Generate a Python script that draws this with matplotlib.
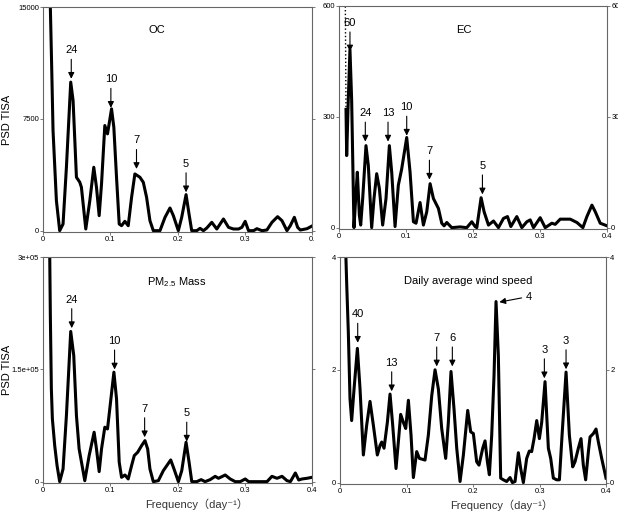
import numpy as np
import matplotlib
matplotlib.use("Agg")
import matplotlib.pyplot as plt

plt.rcParams['font.family'] = ['Liberation Sans', 'Noto Sans CJK SC', 'DejaVu Sans']

# OC
oc_f = [0.0105, 0.0109, 0.0129, 0.0149, 0.0199, 0.0248, 0.0298, 0.0348, 0.0412, 0.0447,
        0.0497, 0.0547, 0.0571, 0.0636, 0.0696, 0.0755, 0.0795, 0.0835, 0.0870, 0.0919,
        0.0959, 0.1019, 0.1053, 0.1093, 0.1133, 0.1168, 0.1217, 0.1267, 0.1317, 0.1366,
        0.1441, 0.1491, 0.1540, 0.1590, 0.1640, 0.1739, 0.1814, 0.1888, 0.1938, 0.2012,
        0.2062, 0.2127, 0.2171, 0.2211, 0.2286, 0.2335, 0.2385, 0.2435, 0.2509, 0.2584,
        0.2683, 0.2758, 0.2832, 0.2907, 0.2957, 0.3006, 0.3056, 0.3131, 0.3180, 0.3255,
        0.3329, 0.3404, 0.3488, 0.3553, 0.3627, 0.3677, 0.3737, 0.3786, 0.3826, 0.3926, 0.4]
oc_v = [16500, 15000, 10970, 6717, 2015, 0, 448, 4254, 9964, 8732,
        3582, 3247, 2911, 112, 2015, 4254, 2911, 1008, 3135, 7053,
        6493, 8172, 6941, 3582, 448, 336, 627, 336, 2239, 3806,
        3582, 3247, 2239, 672, 0, 0, 896, 1523, 1008, 0,
        896, 2418, 1120, 0, 0, 157, 0, 179, 560, 112,
        784, 224, 112, 112, 224, 627, 0, 0, 134, 0,
        45, 560, 940, 672, 0, 336, 896, 224, 45, 134, 313]
oc_marks = [("24", 0.042, 10190), ("10", 0.1009, 8240), ("7", 0.139, 4140), ("5", 0.2127, 2575)]

# EC (first segment dotted)
ec_dot_f = [0.0093, 0.0105]
ec_dot_v = [650, 320]
ec_f = [0.0105, 0.0115, 0.0139, 0.0164, 0.0189, 0.0224, 0.0249, 0.0274, 0.0304, 0.0324,
        0.0354, 0.0403, 0.0438, 0.0488, 0.0523, 0.0563, 0.0603, 0.0652, 0.0702, 0.0752,
        0.0787, 0.0837, 0.0886, 0.0936, 0.1011, 0.1061, 0.1111, 0.1150, 0.1210, 0.1260,
        0.1310, 0.1360, 0.1409, 0.1484, 0.1534, 0.1569, 0.1609, 0.1683, 0.1808, 0.1907,
        0.1982, 0.2032, 0.2057, 0.2121, 0.2166, 0.2231, 0.2306, 0.2380, 0.2455, 0.2515,
        0.2565, 0.2654, 0.2729, 0.2804, 0.2854, 0.2903, 0.3003, 0.3078, 0.3177, 0.3227,
        0.3302, 0.3376, 0.3451, 0.3551, 0.3640, 0.3700, 0.3775, 0.3825, 0.3899, 0.4]
ec_v = [320, 195, 347, 482, 347, 0, 79, 150, 34, 7,
        79, 222, 168, 0, 79, 146, 106, 7, 79, 222,
        150, 3, 115, 159, 244, 150, 16, 12, 68, 7,
        43, 119, 79, 52, 12, 5, 14, 0, 2, 0,
        16, 3, 0, 81, 43, 7, 18, 0, 25, 30,
        3, 30, 0, 16, 21, 0, 27, 0, 12, 9,
        23, 23, 23, 14, 0, 30, 61, 43, 12, 5]
ec_marks = [("60", 0.0164, 477), ("24", 0.0393, 233), ("13", 0.0732, 233),
            ("10", 0.1011, 249), ("7", 0.135, 130), ("5", 0.2141, 90)]

# PM2.5 mass
pm_f = [0.0099, 0.0109, 0.0124, 0.0139, 0.0174, 0.0209, 0.0248, 0.0298, 0.0348, 0.0412,
        0.0457, 0.0497, 0.0537, 0.0621, 0.0686, 0.0760, 0.0795, 0.0835, 0.0870, 0.0919,
        0.0959, 0.1004, 0.1054, 0.1093, 0.1133, 0.1168, 0.1218, 0.1267, 0.1317, 0.1357,
        0.1407, 0.1466, 0.1516, 0.1556, 0.1590, 0.1640, 0.1715, 0.1789, 0.1899, 0.1948,
        0.2013, 0.2063, 0.2127, 0.2172, 0.2212, 0.2286, 0.2351, 0.2410, 0.2485, 0.2560,
        0.2609, 0.2709, 0.2783, 0.2858, 0.2932, 0.3007, 0.3057, 0.3330, 0.3404, 0.3479,
        0.3554, 0.3628, 0.3678, 0.3752, 0.3802, 0.3852, 0.3926, 0.4]
pm_v = [310000, 222000, 124000, 84200, 48100, 21400, 0, 16900, 88300, 200600,
        168500, 88300, 43700, 1300, 34800, 66000, 43700, 13400, 43700, 72700,
        70400, 106100, 146200, 110600, 25900, 5800, 8900, 3600, 21400, 34800,
        39200, 48100, 54800, 43700, 16900, 0, 1300, 14700, 29000, 16900,
        0, 14700, 52600, 25900, 0, 0, 2700, 0, 2700, 7100,
        4500, 8900, 3600, 0, 0, 3600, 0, 0, 7100, 4500,
        7100, 1300, 0, 11600, 2200, 3600, 4500, 5800]
pm_marks = [("24", 0.0427, 205000), ("10", 0.1064, 149800), ("7", 0.1511, 59300), ("5", 0.2137, 53500)]

# Daily average wind speed
ws_f = [0.0085, 0.0100, 0.0125, 0.0150, 0.0175, 0.0211, 0.0261, 0.0301, 0.0351, 0.0401,
        0.0451, 0.0501, 0.0561, 0.0602, 0.0627, 0.0662, 0.0712, 0.0752, 0.0792, 0.0842,
        0.0877, 0.0912, 0.0952, 0.0988, 0.1028, 0.1068, 0.1103, 0.1153, 0.1193, 0.1278,
        0.1328, 0.1379, 0.1429, 0.1479, 0.1529, 0.1589, 0.1629, 0.1669, 0.1714, 0.1755,
        0.1805, 0.1855, 0.1920, 0.1965, 0.2005, 0.2055, 0.2090, 0.2146, 0.2181, 0.2216,
        0.2246, 0.2281, 0.2316, 0.2346, 0.2381, 0.2416, 0.2456, 0.2506, 0.2557, 0.2592,
        0.2632, 0.2682, 0.2717, 0.2757, 0.2807, 0.2847, 0.2882, 0.2918, 0.2958, 0.2998,
        0.3033, 0.3083, 0.3133, 0.3168, 0.3208, 0.3258, 0.3299, 0.3339, 0.3399, 0.3449,
        0.3499, 0.3534, 0.3584, 0.3624, 0.3659, 0.3694, 0.3735, 0.3760, 0.3810, 0.3850,
        0.3885, 0.3935, 0.4]
ws_v = [4.13, 3.54, 2.66, 1.49, 1.10, 1.66, 2.38, 1.66, 0.49, 1.02,
        1.44, 1.02, 0.49, 0.66, 0.72, 0.61, 1.07, 1.57, 1.02, 0.25,
        0.72, 1.21, 1.07, 0.96, 1.46, 0.84, 0.09, 0.55, 0.43, 0.40,
        0.84, 1.54, 2.00, 1.66, 0.96, 0.43, 1.07, 1.97, 1.31, 0.61,
        0.02, 0.49, 1.28, 0.90, 0.87, 0.37, 0.31, 0.61, 0.74, 0.37,
        0.14, 0.84, 1.90, 3.21, 2.25, 0.08, 0.05, 0.02, 0.09, 0.0,
        0.02, 0.53, 0.25, 0.0, 0.43, 0.56, 0.55, 0.78, 1.10, 0.78,
        1.07, 1.79, 0.61, 0.43, 0.08, 0.05, 0.05, 0.84, 1.96, 0.84,
        0.28, 0.37, 0.61, 0.78, 0.31, 0.05, 0.55, 0.81, 0.87, 0.95,
        0.72, 0.43, 0.08]
ws_marks = [("40", 0.0266, 2.48), ("13", 0.0777, 1.62), ("7", 0.1454, 2.06),
            ("6", 0.1689, 2.06), ("3", 0.3073, 1.85), ("3", 0.3399, 2.01)]
ws_mark4 = ("4", 0.2396, 3.20)

x_ticks = [0, 0.1, 0.2, 0.3, 0.4]
x_labels = ["0", "0.1", "0.2", "0.3", "0.4"]
x_labels_oc = ["0", "0.1", "0.2", "0.3", "0."]

fig = plt.figure(figsize=(6.18, 5.14), dpi=100)
ax1 = fig.add_axes([0.0696, 0.5486, 0.4353, 0.4377])
ax2 = fig.add_axes([0.5485, 0.5545, 0.4337, 0.4339])
ax3 = fig.add_axes([0.0696, 0.0603, 0.4353, 0.4397])
ax4 = fig.add_axes([0.5502, 0.0584, 0.4304, 0.4416])

arrow = dict(arrowstyle='-|>', color='black', lw=0.8, mutation_scale=9, shrinkA=1, shrinkB=0)
fs = 8


def style(ax, top, yticks, ylabels, right_labels):
    ax.set_xlim(0, 0.4)
    ax.set_ylim(-0.006 * top, top)
    ax.set_xticks(x_ticks)
    ax.set_yticks(yticks)
    ax.set_yticklabels(ylabels)
    for s in ax.spines.values():
        s.set_color('#666666')
        s.set_linewidth(0.8)
    ax.tick_params(direction='out', length=2, width=0.6, color='#666666',
                   labelsize=5.5, pad=1, right=True, labelright=right_labels)


def marks(ax, items):
    for lab, f, v in items:
        ax.annotate(lab, xy=(f, v), xytext=(0, 17), textcoords='offset points',
                    ha='center', va='bottom', fontsize=fs, arrowprops=arrow)


# OC
ax1.plot(oc_f, oc_v, color='black', lw=2.2, solid_joinstyle='round')
style(ax1, 15000, [0, 7500, 15000], ["0", "7500", "15000"], False)
ax1.set_xticklabels(x_labels_oc)
ax1.text(0.424, 0.898, "OC", transform=ax1.transAxes, ha='center', va='center', fontsize=fs)
ax1.set_ylabel("PSD TISA", fontsize=fs)
ax1.yaxis.set_label_coords(-0.115, 0.5)
marks(ax1, oc_marks)

# EC
ax2.plot(ec_dot_f, ec_dot_v, color='black', lw=1.0, ls=':')
ax2.plot(ec_f, ec_v, color='black', lw=2.2, solid_joinstyle='round')
style(ax2, 600, [0, 300, 600], ["0", "300", "600"], True)
ax2.set_xticklabels(x_labels)
ax2.text(0.466, 0.89, "EC", transform=ax2.transAxes, ha='center', va='center', fontsize=fs)
marks(ax2, ec_marks)

# PM2.5
ax3.plot(pm_f, pm_v, color='black', lw=2.2, solid_joinstyle='round')
style(ax3, 300000, [0, 150000, 300000], ["0", "1.5e+05", "3e+05"], False)
ax3.set_xticklabels(x_labels)
ax3.text(0.498, 0.89, r"PM$_{\mathregular{2.5}}$ Mass", transform=ax3.transAxes,
         ha='center', va='center', fontsize=fs)
ax3.set_ylabel("PSD TISA", fontsize=fs)
ax3.yaxis.set_label_coords(-0.115, 0.5)
ax3.set_xlabel("Frequency（day⁻¹）", fontsize=fs, color='#333333')
ax3.xaxis.set_label_coords(0.572, -0.07)
marks(ax3, pm_marks)

# wind speed
ax4.plot(ws_f, ws_v, color='black', lw=2.2, solid_joinstyle='round')
style(ax4, 4, [0, 2, 4], ["0", "2", "4"], True)
ax4.set_xticklabels(x_labels)
ax4.text(0.48, 0.894, "Daily average wind speed", transform=ax4.transAxes,
         ha='center', va='center', fontsize=fs)
ax4.set_xlabel("Frequency（day⁻¹）", fontsize=fs, color='#333333')
ax4.xaxis.set_label_coords(0.609, -0.07)
marks(ax4, ws_marks)
ax4.annotate(ws_mark4[0], xy=(ws_mark4[1], ws_mark4[2]), xytext=(19, 4),
             textcoords='offset points', ha='left', va='center', fontsize=fs,
             arrowprops=arrow)

fig.savefig("out.png", dpi=100)
